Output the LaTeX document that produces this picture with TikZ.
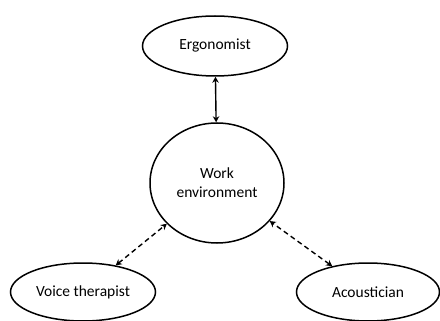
\documentclass[tikz,border=0pt]{standalone}
\usepackage{fontspec}
\setmainfont{Carlito}
\usetikzlibrary{arrows.meta,shapes.geometric}

\tikzset{
  role/.style={draw,ellipse,line width=1.5pt,inner sep=0pt,
    minimum width=145pt,minimum height=60pt,font=\fontsize{15.5}{19}\selectfont},
  link/.style={<->,line width=1.4pt,>={Stealth[length=6pt,width=6.5pt]}},
  loose/.style={link,dash pattern=on 5pt off 3.5pt}
}

\begin{document}
\begin{tikzpicture}[x=1pt,y=-1pt]
    \useasboundingbox (0,0) rectangle (440,321);
    % the three roles round the work environment
    \node[role] (ergo) at (215,46) {Ergonomist};
    \node[role,minimum width=134pt,minimum height=120pt,align=center] (work) at (217,183) {Work\\environment};
    \node[role,minimum height=58pt] (voice) at (83,292) {Voice therapist};
    \node[role,minimum width=143pt,minimum height=58pt] (acou) at (368,292) {Acoustician};
    \draw[link] (ergo) -- (work);
    \draw[loose] (voice) -- (work);
    \draw[loose] (acou) -- (work);
  \end{tikzpicture}
\end{document}
